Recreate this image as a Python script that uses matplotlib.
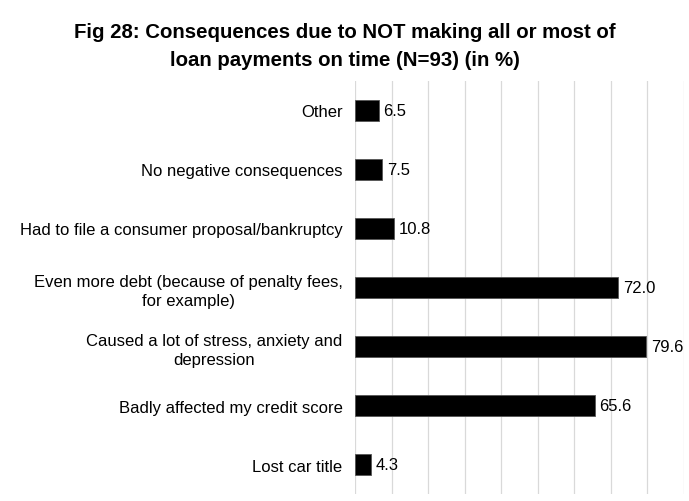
import numpy as np
import matplotlib.pyplot as plt

# Data ----------------------------------------------------------------
labels = ["Other",
          "No negative consequences",
          "Had to file a consumer proposal/bankruptcy",
          "Even more debt (because of penalty fees,\nfor example)",
          "Caused a lot of stress, anxiety and\ndepression",
          "Badly affected my credit score",
          "Lost car title"]
values = [6.5, 7.5, 10.8, 72.0, 79.6, 65.6, 4.3]

title_lines = ["Fig 28: Consequences due to NOT making all or most of",
               "loan payments on time (N=93) (in %)"]

# Plot ----------------------------------------------------------------
plt.rcParams['font.family'] = ['Liberation Sans', 'DejaVu Sans']

fig = plt.figure(figsize=(6.89, 5.02), dpi=100)
ax = fig.add_axes([0.5152, 0.0139, 0.4775, 0.8228])

y = np.arange(len(values))
ax.barh(y, values, height=0.35, color='black', edgecolor='#555555', linewidth=0.6, zorder=3)
ax.set_ylim(len(values) - 0.5, -0.5)
ax.set_xlim(0, 90)
ax.set_xticks(np.arange(0, 91, 10))
ax.set_xticklabels([])
ax.tick_params(axis='x', length=0)
ax.grid(axis='x', color='#d9d9d9', linewidth=0.9, zorder=0)

ax.set_yticks(y)
ax.set_yticklabels(labels, fontsize=12, linespacing=1.3, multialignment='center')
ax.tick_params(axis='y', length=0, pad=9)

for s in ax.spines.values():
    s.set_visible(False)

for yi, v in zip(y, values):
    ax.text(v + 1.3, yi, f"{v:.1f}", va='center', ha='left', fontsize=12, zorder=4)

fig.text(0.5, 0.936, title_lines[0], ha='center', va='center', fontsize=14.7, fontweight='bold')
fig.text(0.5, 0.880, title_lines[1], ha='center', va='center', fontsize=14.7, fontweight='bold')

fig.savefig("out.png", dpi=100)
